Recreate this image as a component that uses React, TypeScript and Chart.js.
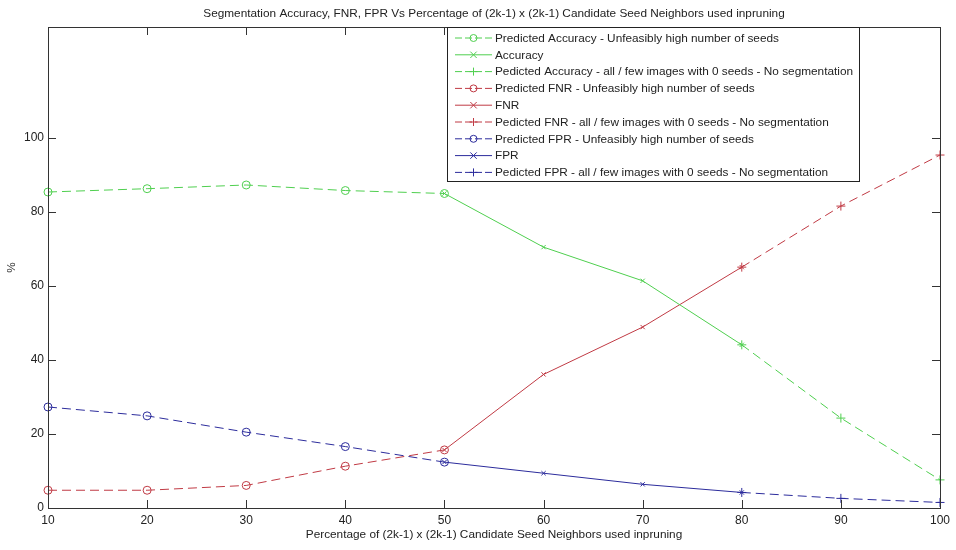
import React, { useEffect, useRef } from "react";
import { Chart, registerables } from "chart.js";

Chart.register(...registerables);

const xValues = [10, 20, 30, 40, 50, 60, 70, 80, 90, 100];
const yTickValues = [0, 20, 40, 60, 80, 100];

const predAccHigh = [85.4, 86.3, 87.3, 85.8, 85.0, null, null, null, null, null];
const accuracy = [null, null, null, null, 85.0, 70.5, 61.4, 44.1, null, null];
const predAccZero = [null, null, null, null, null, null, null, 44.1, 24.3, 7.6];
const predFnrHigh = [4.8, 4.8, 6.1, 11.3, 15.7, null, null, null, null, null];
const fnr = [null, null, null, null, 15.7, 36.1, 48.9, 65.1, null, null];
const predFnrZero = [null, null, null, null, null, null, null, 65.1, 81.6, 95.4];
const predFprHigh = [27.3, 24.9, 20.5, 16.6, 12.4, null, null, null, null, null];
const fpr = [null, null, null, null, 12.4, 9.4, 6.4, 4.2, null, null];
const predFprZero = [null, null, null, null, null, null, null, 4.2, 2.6, 1.5];

const labels = [
  "Predicted Accuracy - Unfeasibly high number of seeds",
  "Accuracy",
  "Pedicted Accuracy - all / few images with 0 seeds - No segmentation",
  "Predicted FNR - Unfeasibly high number of seeds",
  "FNR",
  "Pedicted FNR - all / few images with 0 seeds - No segmentation",
  "Predicted FPR - Unfeasibly high number of seeds",
  "FPR",
  "Pedicted FPR - all / few images with 0 seeds - No segmentation",
];

const titleText =
  "Segmentation Accuracy, FNR, FPR Vs Percentage of (2k-1) x (2k-1) Candidate Seed Neighbors used inpruning";
const xTitle = "Percentage of (2k-1) x (2k-1) Candidate Seed Neighbors used inpruning";
const yTitle = "%";

const GREEN = "#4fcf4f";
const RED = "#c03a44";
const BLUE = "#2c2c9c";
const FONT = "'Liberation Sans', Arial, sans-serif";
const TEXT_SIZE = 11.8;

function makeSet(label: string, values: (number | null)[], color: string, style: string, dashed: boolean) {
  const pts: { x: number; y: number }[] = [];
  xValues.forEach((x, i) => {
    const v = values[i];
    if (v !== null) pts.push({ x, y: v });
  });
  return {
    label,
    data: pts,
    borderColor: color,
    backgroundColor: color,
    borderWidth: 1,
    borderDash: dashed ? [9, 5] : [],
    pointStyle: style,
    pointRadius: style === "circle" ? 4 : style === "cross" ? 4.5 : 3,
    pointBorderColor: color,
    pointBackgroundColor: "rgba(0,0,0,0)",
    pointBorderWidth: 1,
    tension: 0,
    clip: false as any,
    fill: false,
  };
}

function drawMarker(ctx: CanvasRenderingContext2D, style: string, x: number, y: number, r: number) {
  ctx.beginPath();
  if (style === "circle") {
    ctx.arc(x, y, r, 0, Math.PI * 2);
  } else if (style === "cross") {
    ctx.moveTo(x - r, y);
    ctx.lineTo(x + r, y);
    ctx.moveTo(x, y - r);
    ctx.lineTo(x, y + r);
  } else {
    const d = r * 0.8;
    ctx.moveTo(x - d, y - d);
    ctx.lineTo(x + d, y + d);
    ctx.moveTo(x - d, y + d);
    ctx.lineTo(x + d, y - d);
  }
  ctx.stroke();
}

const decorPlugin = {
  id: "decor",
  afterDraw(chart: any) {
    const ctx: CanvasRenderingContext2D = chart.ctx;
    const a = chart.chartArea;
    const xs = chart.scales.x;
    const ys = chart.scales.y;
    ctx.save();
    ctx.strokeStyle = "#333";
    ctx.lineWidth = 1;
    ctx.setLineDash([]);
    ctx.strokeRect(Math.round(a.left) + 0.5, Math.round(a.top) + 0.5, Math.round(a.right - a.left), Math.round(a.bottom - a.top));
    const tl = 8;
    ctx.beginPath();
    xValues.forEach((v) => {
      const px = Math.round(xs.getPixelForValue(v)) + 0.5;
      ctx.moveTo(px, a.bottom);
      ctx.lineTo(px, a.bottom - tl);
      ctx.moveTo(px, a.top);
      ctx.lineTo(px, a.top + tl);
    });
    yTickValues.forEach((v) => {
      const py = Math.round(ys.getPixelForValue(v)) + 0.5;
      ctx.moveTo(a.left, py);
      ctx.lineTo(a.left + tl, py);
      ctx.moveTo(a.right, py);
      ctx.lineTo(a.right - tl, py);
    });
    ctx.stroke();

    ctx.fillStyle = "#222";
    ctx.font = `${TEXT_SIZE}px ${FONT}`;
    ctx.textAlign = "center";
    ctx.textBaseline = "middle";
    const cx = (a.left + a.right) / 2;
    ctx.fillText(titleText, cx, 14);
    ctx.fillText(xTitle, cx, 535);
    ctx.save();
    ctx.translate(12, (a.top + a.bottom) / 2);
    ctx.rotate(-Math.PI / 2);
    ctx.fillText(yTitle, 0, 0);
    ctx.restore();

    const lx = 447, ly = 27, lw = 412, lh = 154;
    ctx.fillStyle = "#fff";
    ctx.fillRect(lx, ly, lw, lh);
    ctx.strokeStyle = "#222";
    ctx.strokeRect(lx + 0.5, ly + 0.5, lw, lh);
    const rowH = 16.8;
    chart.data.datasets.forEach((ds: any, i: number) => {
      const y = ly + 11 + i * rowH;
      ctx.strokeStyle = ds.borderColor;
      ctx.lineWidth = 1;
      ctx.setLineDash(ds.borderDash.length ? [7, 3] : []);
      ctx.beginPath();
      ctx.moveTo(455, y);
      ctx.lineTo(492, y);
      ctx.stroke();
      ctx.setLineDash([]);
      drawMarker(ctx, ds.pointStyle, 473.5, y, ds.pointStyle === "circle" ? 3.5 : 4);
      ctx.fillStyle = "#222";
      ctx.font = `${TEXT_SIZE}px ${FONT}`;
      ctx.textAlign = "left";
      ctx.textBaseline = "middle";
      ctx.fillText(ds.label, 495, y + 0.5);
    });
    ctx.restore();
  },
};

export default function App() {
  const ref = useRef<HTMLCanvasElement | null>(null);
  useEffect(() => {
    document.body.style.margin = "0";
    document.body.style.background = "#fff";
    const canvas = ref.current!;
    const chart = new Chart(canvas, {
      type: "line",
      data: {
        datasets: [
          makeSet(labels[0], predAccHigh, GREEN, "circle", true),
          makeSet(labels[1], accuracy, GREEN, "crossRot", false),
          makeSet(labels[2], predAccZero, GREEN, "cross", true),
          makeSet(labels[3], predFnrHigh, RED, "circle", true),
          makeSet(labels[4], fnr, RED, "crossRot", false),
          makeSet(labels[5], predFnrZero, RED, "cross", true),
          makeSet(labels[6], predFprHigh, BLUE, "circle", true),
          makeSet(labels[7], fpr, BLUE, "crossRot", false),
          makeSet(labels[8], predFprZero, BLUE, "cross", true),
        ] as any,
      },
      options: {
        animation: false,
        responsive: false,
        maintainAspectRatio: false,
        layout: { padding: { top: 27, right: 16, left: 0, bottom: 0 } },
        plugins: { legend: { display: false }, title: { display: false }, tooltip: { enabled: false } },
        scales: {
          x: {
            type: "linear",
            min: 10,
            max: 100,
            grid: { display: false, drawTicks: false },
            border: { display: false },
            ticks: { stepSize: 10, padding: 5, color: "#222", font: { family: FONT, size: 12 }, maxRotation: 0 },
            afterFit: (s: any) => {
              s.height = 42;
            },
          },
          y: {
            type: "linear",
            min: 0,
            max: 130,
            grid: { display: false, drawTicks: false },
            border: { display: false },
            afterBuildTicks: (s: any) => {
              s.ticks = yTickValues.map((v) => ({ value: v }));
            },
            ticks: { padding: 4, color: "#222", font: { family: FONT, size: 12 } },
            afterFit: (s: any) => {
              s.width = 48;
            },
          },
        },
      } as any,
      plugins: [decorPlugin],
    });
    return () => chart.destroy();
  }, []);
  return <canvas ref={ref} width={956} height={550} style={{ display: "block" }} />;
}
